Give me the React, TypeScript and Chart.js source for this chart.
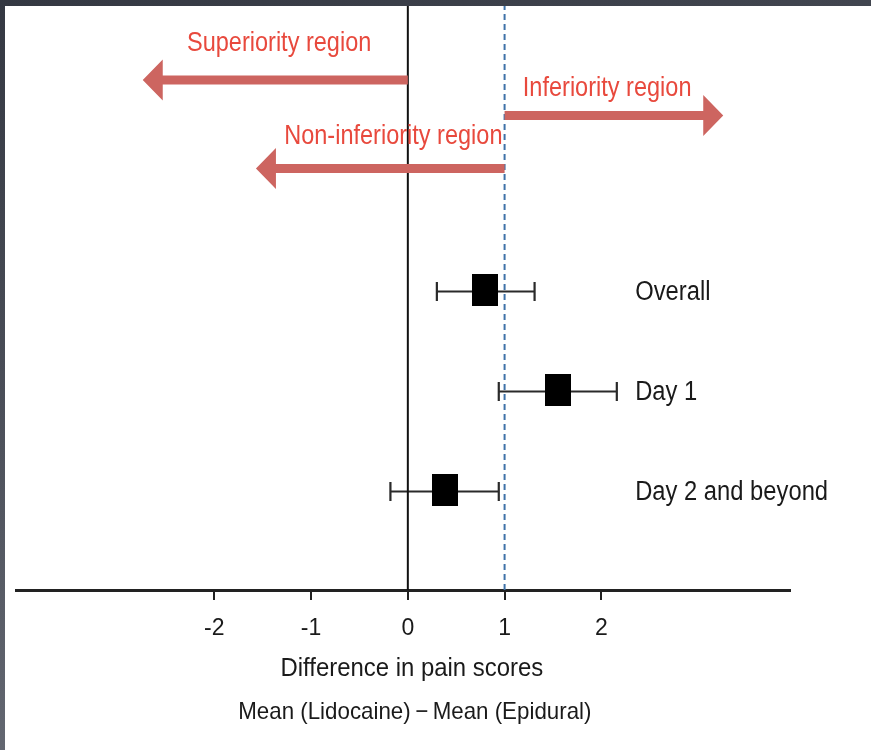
import React, { useEffect, useRef } from "react";
import { Chart, registerables } from "chart.js";

Chart.register(...registerables);

// ---- data ----
const categories = ["Overall", "Day 1", "Day 2 and beyond"];
const rowY = [3, 2, 1];
const means = [0.8, 1.55, 0.38];
const ciLow = [0.3, 0.94, -0.18];
const ciHigh = [1.31, 2.16, 0.94];
const tickValues = [-2, -1, 0, 1, 2];
const xMin = -4.05;
const xMax = 3.95;
const yMin = 0;
const yMax = 5.84;
const zeroLineX = 0;
const marginLineX = 1;

const arrowLabels = ["Superiority region", "Inferiority region", "Non-inferiority region"];
const arrowFrom = [0, 1, 1];
const arrowTo = [-2.74, 3.26, -1.57];
const arrowY = [5.1, 4.745, 4.215];
const arrowLabelX = [-1.33, 2.06, -0.15];
const arrowLabelY = [5.49, 5.045, 4.56];

const xTitle = "Difference in pain scores";
const xSubtitle = "Mean (Lidocaine)\u2009\u2212\u2009Mean (Epidural)";

const FONT = "'Liberation Sans', Arial, Helvetica, sans-serif";
const RED_TEXT = "#e8493d";
const ARROW = "#cd6560";
const INK = "#1a1a1a";

function drawScaledText(
  ctx: CanvasRenderingContext2D,
  text: string,
  x: number,
  y: number,
  size: number,
  sx: number,
  color: string,
  align: "left" | "center"
) {
  ctx.save();
  ctx.font = `${size}px ${FONT}`;
  ctx.fillStyle = color;
  ctx.textBaseline = "alphabetic";
  ctx.textAlign = align;
  ctx.translate(x, y);
  ctx.scale(sx, 1);
  ctx.fillText(text, 0, 0);
  ctx.restore();
}

const forestPlugin = {
  id: "forestExtras",
  beforeDatasetsDraw(chart: any) {
    const { ctx, scales } = chart;
    const xs = scales.x;
    const ys = scales.y;
    ctx.save();
    ctx.strokeStyle = "#2a2a2a";
    ctx.lineWidth = 2.2;
    for (let i = 0; i < means.length; i++) {
      const y = ys.getPixelForValue(rowY[i]) + 1.5;
      const x1 = xs.getPixelForValue(ciLow[i]);
      const x2 = xs.getPixelForValue(ciHigh[i]);
      ctx.beginPath();
      ctx.moveTo(x1, y);
      ctx.lineTo(x2, y);
      ctx.moveTo(x1, y - 9.5);
      ctx.lineTo(x1, y + 9.5);
      ctx.moveTo(x2, y - 9.5);
      ctx.lineTo(x2, y + 9.5);
      ctx.stroke();
    }
    ctx.restore();
  },
  afterDatasetsDraw(chart: any) {
    const { ctx, scales } = chart;
    const xs = scales.x;
    const ys = scales.y;
    // arrows
    for (let i = 0; i < arrowLabels.length; i++) {
      const xa = xs.getPixelForValue(arrowFrom[i]);
      const xb = xs.getPixelForValue(arrowTo[i]);
      const y = ys.getPixelForValue(arrowY[i]);
      const dir = xb > xa ? 1 : -1;
      const headLen = 20;
      const headHalf = 20.5;
      const shaftHalf = 4.5;
      const xh = xb - dir * headLen;
      ctx.save();
      ctx.fillStyle = ARROW;
      ctx.beginPath();
      ctx.moveTo(xa, y - shaftHalf);
      ctx.lineTo(xh, y - shaftHalf);
      ctx.lineTo(xh, y - headHalf);
      ctx.lineTo(xb, y);
      ctx.lineTo(xh, y + headHalf);
      ctx.lineTo(xh, y + shaftHalf);
      ctx.lineTo(xa, y + shaftHalf);
      ctx.closePath();
      ctx.fill();
      ctx.restore();
      const tx = xs.getPixelForValue(arrowLabelX[i]);
      const ty = ys.getPixelForValue(arrowLabelY[i]) + 0.716 * 28 / 2;
      drawScaledText(ctx, arrowLabels[i], tx, ty, 28, 0.84, RED_TEXT, "center");
    }
    // row labels
    const labelX = xs.getPixelForValue(2.35);
    for (let i = 0; i < categories.length; i++) {
      const y = ys.getPixelForValue(rowY[i]) + 0.716 * 27 / 2;
      drawScaledText(ctx, categories[i], labelX, y, 27, 0.88, INK, "left");
    }
  },
  afterDraw(chart: any) {
    const { ctx, scales } = chart;
    const cx = scales.x.getPixelForValue(0) + 4;
    drawScaledText(ctx, xTitle, cx, 676, 26, 0.92, INK, "center");
    drawScaledText(ctx, xSubtitle, cx + 3, 719, 24, 0.93, INK, "center");
  },
};

export default function App() {
  const canvasRef = useRef<HTMLCanvasElement | null>(null);

  useEffect(() => {
    if (!canvasRef.current) return;
    const box = document.createElement("canvas");
    box.width = 26;
    box.height = 32;
    const bctx = box.getContext("2d")!;
    bctx.fillStyle = "#000";
    bctx.fillRect(0, 0, 26, 32);

    const chart = new Chart(canvasRef.current, {
      type: "scatter",
      data: {
        datasets: [
          {
            type: "scatter",
            label: "Mean difference",
            data: means.map((m, i) => ({ x: m, y: rowY[i] })),
            pointStyle: box as any,
            pointRadius: 16,
            backgroundColor: "#000",
            borderColor: "#000",
            order: 0,
          },
          {
            type: "line",
            label: "Zero",
            data: [
              { x: zeroLineX, y: yMin },
              { x: zeroLineX, y: yMax },
            ],
            borderColor: "#111",
            borderWidth: 2,
            pointRadius: 0,
            order: 1,
          },
          {
            type: "line",
            label: "Margin",
            data: [
              { x: marginLineX, y: yMin },
              { x: marginLineX, y: yMax },
            ],
            borderColor: "#3f72a8",
            borderWidth: 2,
            borderDash: [6, 4],
            pointRadius: 0,
            order: 1,
          },
        ],
      },
      options: {
        animation: false,
        responsive: true,
        maintainAspectRatio: false,
        layout: { autoPadding: false, padding: { top: 6, left: 16, right: 81, bottom: 0 } },
        plugins: {
          legend: { display: false },
          tooltip: { enabled: false },
        },
        scales: {
          x: {
            type: "linear",
            min: xMin,
            max: xMax,
            afterBuildTicks: (scale: any) => {
              scale.ticks = tickValues.map((v) => ({ value: v }));
            },
            afterFit: (scale: any) => {
              scale.height = 160;
            },
            grid: {
              drawOnChartArea: false,
              drawTicks: true,
              tickLength: 10,
              color: "#222",
              lineWidth: 2,
            },
            border: { display: true, color: "#222", width: 3 },
            ticks: {
              color: INK,
              font: { family: FONT, size: 23 },
              padding: 15,
              callback: (v: any) => String(v),
            },
          },
          y: {
            type: "linear",
            min: yMin,
            max: yMax,
            display: false,
          },
        },
      },
      plugins: [forestPlugin],
    });
    return () => chart.destroy();
  }, []);

  return (
    <div
      style={{
        position: "fixed",
        left: 0,
        top: 0,
        width: 871,
        height: 750,
        background: "linear-gradient(165deg, #343842 0%, #4a4e58 40%, #737781 100%)",
      }}
    >
      <div
        style={{
          position: "absolute",
          left: 5,
          top: 6,
          right: 0,
          bottom: 0,
          background: "#fff",
        }}
      />
      <div style={{ position: "absolute", left: 0, top: 0, width: 871, height: 750 }}>
        <canvas ref={canvasRef} />
      </div>
    </div>
  );
}
